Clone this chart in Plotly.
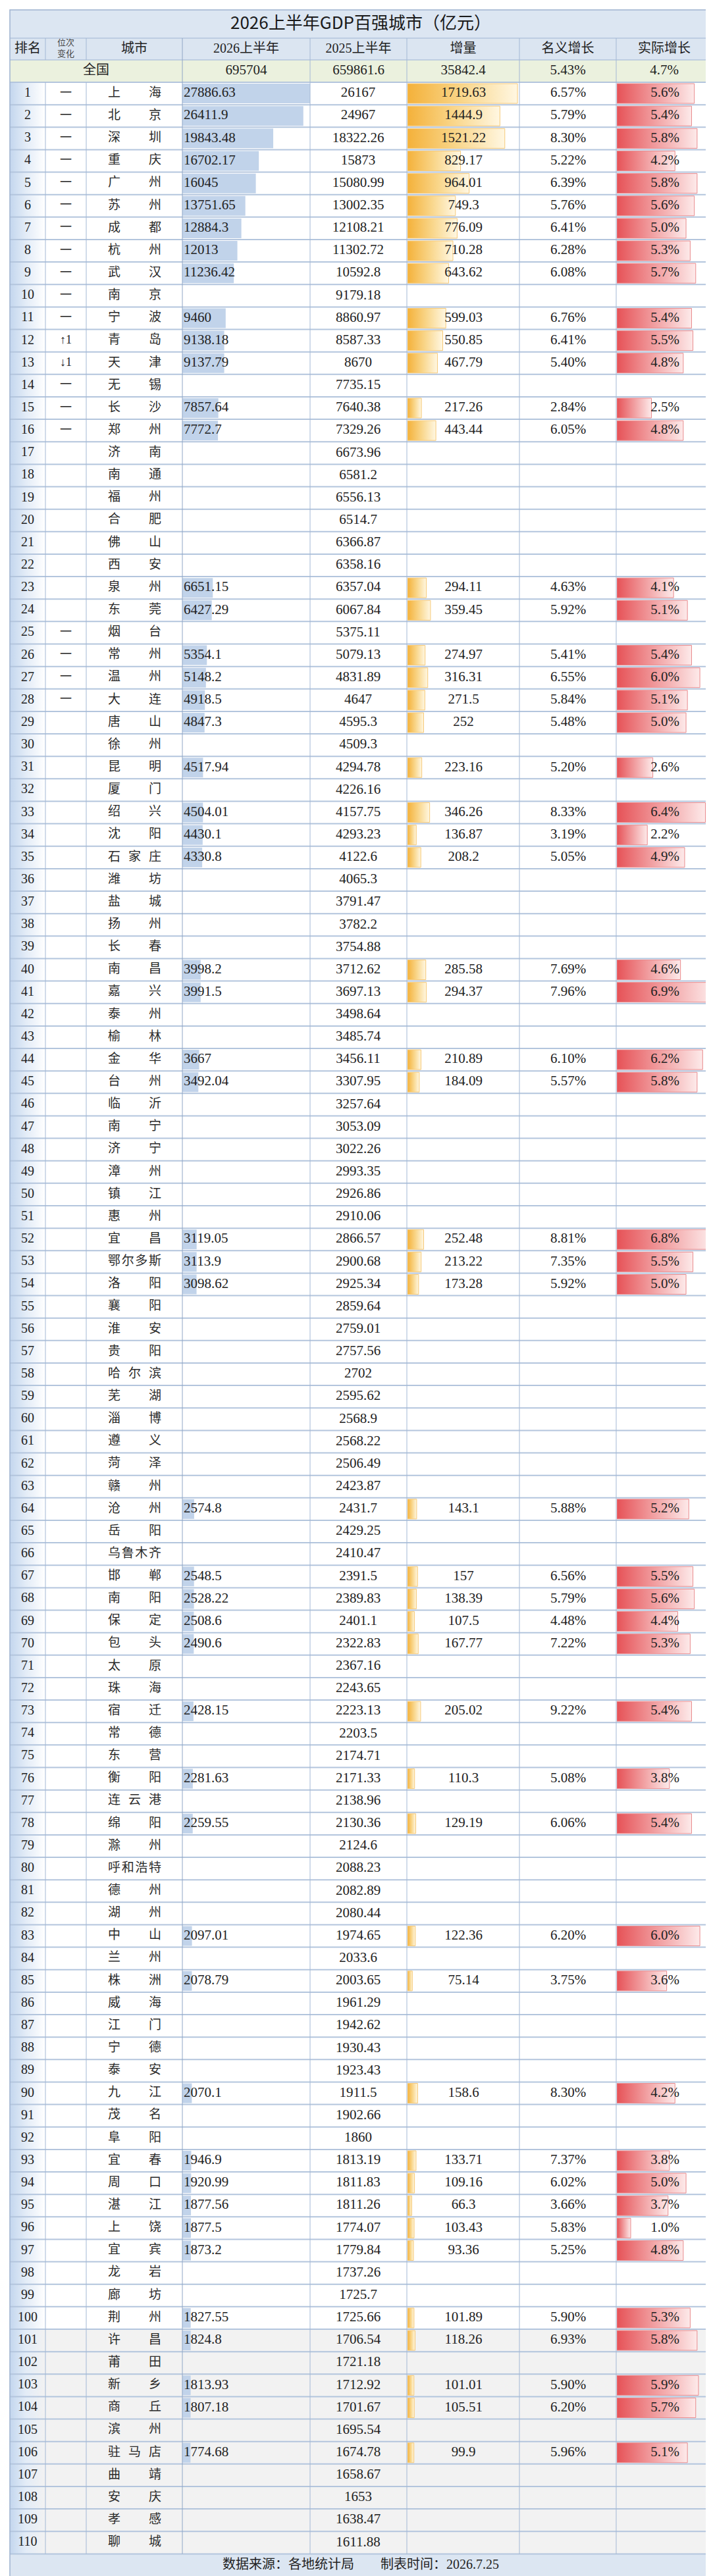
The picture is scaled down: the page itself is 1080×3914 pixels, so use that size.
import plotly.graph_objects as go

N = None
TITLE = "2026上半年GDP百强城市（亿元）"
HEADERS = ["排名", "位次<br>变化", "城市", "2026上半年", "2025上半年", "增量", "名义增长", "实际增长"]
FOOTER = "数据来源：各地统计局　　制表时间：2026.7.25"
NATIONAL_LABEL = "全国"
national_values = [695704, 659861.6, 35842.4, 5.43, 4.7]

cities = ["上海","北京","深圳","重庆","广州","苏州","成都","杭州","武汉","南京",
          "宁波","青岛","天津","无锡","长沙","郑州","济南","南通","福州","合肥",
          "佛山","西安","泉州","东莞","烟台","常州","温州","大连","唐山","徐州",
          "昆明","厦门","绍兴","沈阳","石家庄","潍坊","盐城","扬州","长春","南昌",
          "嘉兴","泰州","榆林","金华","台州","临沂","南宁","济宁","漳州","镇江",
          "惠州","宜昌","鄂尔多斯","洛阳","襄阳","淮安","贵阳","哈尔滨","芜湖","淄博",
          "遵义","菏泽","赣州","沧州","岳阳","乌鲁木齐","邯郸","南阳","保定","包头",
          "太原","珠海","宿迁","常德","东营","衡阳","连云港","绵阳","滁州","呼和浩特",
          "德州","湖州","中山","兰州","株洲","威海","江门","宁德","泰安","九江",
          "茂名","阜阳","宜春","周口","湛江","上饶","宜宾","龙岩","廊坊","荆州",
          "许昌","莆田","新乡","商丘","滨州","驻马店","曲靖","安庆","孝感","聊城"]

rank_change = ["一","一","一","一","一","一","一","一","一","一",
               "一","↑1","↓1","一","一","一","","","","",
               "","","","","一","一","一","一"] + [""] * 82

gdp_2026 = [27886.63, 26411.9, 19843.48, 16702.17, 16045, 13751.65, 12884.3, 12013, 11236.42, N,
            9460, 9138.18, 9137.79, N, 7857.64, 7772.7, N, N, N, N,
            N, N, 6651.15, 6427.29, N, 5354.1, 5148.2, 4918.5, 4847.3, N,
            4517.94, N, 4504.01, 4430.1, 4330.8, N, N, N, N, 3998.2,
            3991.5, N, N, 3667, 3492.04, N, N, N, N, N,
            N, 3119.05, 3113.9, 3098.62, N, N, N, N, N, N,
            N, N, N, 2574.8, N, N, 2548.5, 2528.22, 2508.6, 2490.6,
            N, N, 2428.15, N, N, 2281.63, N, 2259.55, N, N,
            N, N, 2097.01, N, 2078.79, N, N, N, N, 2070.1,
            N, N, 1946.9, 1920.99, 1877.56, 1877.5, 1873.2, N, N, 1827.55,
            1824.8, N, 1813.93, 1807.18, N, 1774.68, N, N, N, N]

gdp_2025 = [26167, 24967, 18322.26, 15873, 15080.99, 13002.35, 12108.21, 11302.72, 10592.8, 9179.18,
            8860.97, 8587.33, 8670, 7735.15, 7640.38, 7329.26, 6673.96, 6581.2, 6556.13, 6514.7,
            6366.87, 6358.16, 6357.04, 6067.84, 5375.11, 5079.13, 4831.89, 4647, 4595.3, 4509.3,
            4294.78, 4226.16, 4157.75, 4293.23, 4122.6, 4065.3, 3791.47, 3782.2, 3754.88, 3712.62,
            3697.13, 3498.64, 3485.74, 3456.11, 3307.95, 3257.64, 3053.09, 3022.26, 2993.35, 2926.86,
            2910.06, 2866.57, 2900.68, 2925.34, 2859.64, 2759.01, 2757.56, 2702, 2595.62, 2568.9,
            2568.22, 2506.49, 2423.87, 2431.7, 2429.25, 2410.47, 2391.5, 2389.83, 2401.1, 2322.83,
            2367.16, 2243.65, 2223.13, 2203.5, 2174.71, 2171.33, 2138.96, 2130.36, 2124.6, 2088.23,
            2082.89, 2080.44, 1974.65, 2033.6, 2003.65, 1961.29, 1942.62, 1930.43, 1923.43, 1911.5,
            1902.66, 1860, 1813.19, 1811.83, 1811.26, 1774.07, 1779.84, 1737.26, 1725.7, 1725.66,
            1706.54, 1721.18, 1712.92, 1701.67, 1695.54, 1674.78, 1658.67, 1653, 1638.47, 1611.88]

increase = [1719.63, 1444.9, 1521.22, 829.17, 964.01, 749.3, 776.09, 710.28, 643.62, N,
            599.03, 550.85, 467.79, N, 217.26, 443.44, N, N, N, N,
            N, N, 294.11, 359.45, N, 274.97, 316.31, 271.5, 252, N,
            223.16, N, 346.26, 136.87, 208.2, N, N, N, N, 285.58,
            294.37, N, N, 210.89, 184.09, N, N, N, N, N,
            N, 252.48, 213.22, 173.28, N, N, N, N, N, N,
            N, N, N, 143.1, N, N, 157, 138.39, 107.5, 167.77,
            N, N, 205.02, N, N, 110.3, N, 129.19, N, N,
            N, N, 122.36, N, 75.14, N, N, N, N, 158.6,
            N, N, 133.71, 109.16, 66.3, 103.43, 93.36, N, N, 101.89,
            118.26, N, 101.01, 105.51, N, 99.9, N, N, N, N]

nominal_growth = [6.57, 5.79, 8.30, 5.22, 6.39, 5.76, 6.41, 6.28, 6.08, N,
                  6.76, 6.41, 5.40, N, 2.84, 6.05, N, N, N, N,
                  N, N, 4.63, 5.92, N, 5.41, 6.55, 5.84, 5.48, N,
                  5.20, N, 8.33, 3.19, 5.05, N, N, N, N, 7.69,
                  7.96, N, N, 6.10, 5.57, N, N, N, N, N,
                  N, 8.81, 7.35, 5.92, N, N, N, N, N, N,
                  N, N, N, 5.88, N, N, 6.56, 5.79, 4.48, 7.22,
                  N, N, 9.22, N, N, 5.08, N, 6.06, N, N,
                  N, N, 6.20, N, 3.75, N, N, N, N, 8.30,
                  N, N, 7.37, 6.02, 3.66, 5.83, 5.25, N, N, 5.90,
                  6.93, N, 5.90, 6.20, N, 5.96, N, N, N, N]

real_growth = [5.6, 5.4, 5.8, 4.2, 5.8, 5.6, 5.0, 5.3, 5.7, N,
               5.4, 5.5, 4.8, N, 2.5, 4.8, N, N, N, N,
               N, N, 4.1, 5.1, N, 5.4, 6.0, 5.1, 5.0, N,
               2.6, N, 6.4, 2.2, 4.9, N, N, N, N, 4.6,
               6.9, N, N, 6.2, 5.8, N, N, N, N, N,
               N, 6.8, 5.5, 5.0, N, N, N, N, N, N,
               N, N, N, 5.2, N, N, 5.5, 5.6, 4.4, 5.3,
               N, N, 5.4, N, N, 3.8, N, 5.4, N, N,
               N, N, 6.0, N, 3.6, N, N, N, N, 4.2,
               N, N, 3.8, 5.0, 3.7, 1.0, 4.8, N, N, 5.3,
               5.8, N, 5.9, 5.7, N, 5.1, N, N, N, N]

# ---------------- layout geometry (pixels) ----------------
W, H = 1080, 3914
LEFT, RIGHT = 7, 1074
COLS = [7, 61, 123, 269, 463, 610, 781, 928, 1074]
TITLE_TOP, HEAD_TOP, NAT_TOP, ROWS_TOP = 7, 50, 83, 117
ROW_H = 34.14
NROWS = len(cities)
ROWS_BOTTOM = ROWS_TOP + NROWS * ROW_H
FOOT_BOTTOM = 3907
GRAY_FROM = 101
BAR_HALF = 15

NUM_FONT = "Liberation Serif, Noto Sans CJK SC, serif"
CJK_FONT = "Noto Sans CJK SC, sans-serif"
TXT = "#222222"
NUM_SIZE = 21

def fmt(v):
    return ("%.2f" % v).rstrip("0").rstrip(".")

def yc(i):
    return ROWS_TOP + (i + 0.5) * ROW_H

centers = [yc(i) for i in range(NROWS)]

fig = go.Figure()

# rank column gradient backgrounds
for y0, y1, c1 in [(ROWS_TOP, ROWS_TOP + (GRAY_FROM - 1) * ROW_H, "#ffffff"),
                   (ROWS_TOP + (GRAY_FROM - 1) * ROW_H, ROWS_BOTTOM, "#f2f2f2")]:
    fig.add_trace(go.Scatter(
        x=[COLS[0], COLS[1], COLS[1], COLS[0], COLS[0]], y=[y0, y0, y1, y1, y0],
        mode="lines", fill="toself", line=dict(width=0),
        fillgradient=dict(type="horizontal", colorscale=[[0, "#c3d6ee"], [0.45, "#e3ecf7"], [1, c1]]),
        hoverinfo="skip", xaxis="x", yaxis="y"))

# blue bars (2026)
idx26 = [i for i, v in enumerate(gdp_2026) if v is not None]
fig.add_trace(go.Bar(
    orientation="h", x=[gdp_2026[i] for i in idx26], y=[centers[i] for i in idx26],
    base=0, width=2 * BAR_HALF, marker=dict(color="#c1d3ea", line=dict(width=0)),
    hoverinfo="skip", xaxis="x2", yaxis="y"))

# gradient bars: increase (orange) and real growth (red)
def grad_bars(values, axis, cs, border):
    for i, v in enumerate(values):
        if v is None:
            continue
        c = centers[i]
        fig.add_trace(go.Scatter(
            x=[0, v, v, 0, 0], y=[c - BAR_HALF, c - BAR_HALF, c + BAR_HALF, c + BAR_HALF, c - BAR_HALF],
            mode="lines", fill="toself", line=dict(color=border, width=1),
            fillgradient=dict(type="horizontal", colorscale=cs),
            hoverinfo="skip", xaxis=axis, yaxis="y"))

grad_bars(increase, "x3", [[0, "#f4b13a"], [0.5, "#f9d68a"], [1, "#fff7e2"]], "#f6c978")
grad_bars(real_growth, "x4", [[0, "#e65257"], [0.5, "#f19ea0"], [1, "#fdeaea"]], "#e98a8d")

# ---------------- text (top subplot x5) ----------------
def text_trace(xs, ys, texts, size=NUM_SIZE, font=NUM_FONT, pos="middle center", color=TXT):
    fig.add_trace(go.Scatter(
        x=xs, y=ys, text=texts, mode="text", textposition=pos,
        textfont=dict(family=font, size=size, color=color),
        hoverinfo="skip", xaxis="x5", yaxis="y", cliponaxis=False))

# title / footer
text_trace([540], [29], [TITLE], size=26, font=CJK_FONT, color="#1a1a1a")
text_trace([540], [(ROWS_BOTTOM + FOOT_BOTTOM) / 2], [FOOTER], size=20, font=NUM_FONT)

# header
hx = [(COLS[k] + COLS[k + 1]) / 2 for k in range(8)]
hy = (HEAD_TOP + NAT_TOP) / 2
text_trace([hx[k] for k in range(8) if k != 1], [hy] * 7, [HEADERS[k] for k in range(8) if k != 1], size=20, font=NUM_FONT)
text_trace([hx[1]], [hy], [HEADERS[1]], size=13, font=CJK_FONT, color="#444444")

# national row
ny = (NAT_TOP + ROWS_TOP) / 2
text_trace([(COLS[0] + COLS[3]) / 2], [ny], [NATIONAL_LABEL], size=20, font=NUM_FONT)
text_trace([hx[3], hx[4], hx[5], hx[6], hx[7]], [ny] * 5,
           [fmt(national_values[0]), fmt(national_values[1]), fmt(national_values[2]),
            "%.2f%%" % national_values[3], "%.1f%%" % national_values[4]])

# ranks and changes
text_trace([34] * NROWS, centers, [str(i + 1) for i in range(NROWS)], size=20)
ci = [i for i in range(NROWS) if rank_change[i]]
text_trace([92] * len(ci), [centers[i] for i in ci], [rank_change[i] for i in ci], size=18)

# cities (distributed alignment)
cx, cy, ct = [], [], []
for i, name in enumerate(cities):
    n = len(name)
    for k, ch in enumerate(name):
        cx.append(165.5 + k * (62.0 / (n - 1)))
        cy.append(centers[i])
        ct.append(ch)
text_trace(cx, cy, ct, size=19, font=CJK_FONT, color="#2a2a2a")

# values
text_trace([271] * len(idx26), [centers[i] for i in idx26], [fmt(gdp_2026[i]) for i in idx26],
           pos="middle right")
text_trace([536] * NROWS, centers, [fmt(v) for v in gdp_2025])
ii = [i for i, v in enumerate(increase) if v is not None]
text_trace([696] * len(ii), [centers[i] for i in ii], [fmt(increase[i]) for i in ii])
ni = [i for i, v in enumerate(nominal_growth) if v is not None]
text_trace([855] * len(ni), [centers[i] for i in ni], ["%.2f%%" % nominal_growth[i] for i in ni])
ri = [i for i, v in enumerate(real_growth) if v is not None]
text_trace([1002] * len(ri), [centers[i] for i in ri], ["%.1f%%" % real_growth[i] for i in ri])

# ---------------- shapes ----------------
shapes = []
def rect(x0, y0, x1, y1, fill, layer="below"):
    shapes.append(dict(type="rect", xref="x", yref="y", x0=x0, y0=y0, x1=x1, y1=y1,
                       fillcolor=fill, line=dict(width=0), layer=layer))

def line(x0, y0, x1, y1, color, width):
    shapes.append(dict(type="line", xref="x", yref="y", x0=x0, y0=y0, x1=x1, y1=y1,
                       line=dict(color=color, width=width), layer="above"))

rect(LEFT, TITLE_TOP, RIGHT, HEAD_TOP, "#dce6f2")
rect(LEFT, HEAD_TOP, RIGHT, NAT_TOP, "#dbe5f1")
rect(LEFT, NAT_TOP, RIGHT, ROWS_TOP, "#ebf1de")
rect(COLS[1], ROWS_TOP + (GRAY_FROM - 1) * ROW_H, RIGHT, ROWS_BOTTOM, "#f2f2f2")
rect(LEFT, ROWS_BOTTOM, RIGHT, FOOT_BOTTOM, "#dce6f2")

HL = "#b3c5dd"
VL = "#a3b8d5"
line(LEFT, HEAD_TOP, RIGHT, HEAD_TOP, HL, 1.5)
line(LEFT, NAT_TOP, RIGHT, NAT_TOP, HL, 1.5)
for k in range(NROWS + 1):
    y = ROWS_TOP + k * ROW_H
    line(LEFT, y, RIGHT, y, HL, 2)
for k, x in enumerate(COLS[1:-1], start=1):
    if k in (1, 2):
        line(x, HEAD_TOP, x, NAT_TOP, VL, 1)
        line(x, ROWS_TOP, x, ROWS_BOTTOM, VL, 1)
    else:
        line(x, HEAD_TOP, x, ROWS_BOTTOM, "#8fa6c6" if k == 3 else VL, 1)
shapes.append(dict(type="rect", xref="x", yref="y", x0=LEFT, y0=TITLE_TOP, x1=RIGHT, y1=FOOT_BOTTOM,
                   line=dict(color="#9fb3cf", width=1.5), fillcolor="rgba(0,0,0,0)", layer="above"))

ax_hidden = dict(visible=False, fixedrange=True, showgrid=False, zeroline=False)
fig.update_layout(
    width=W, height=H, margin=dict(l=0, r=0, t=0, b=0),
    paper_bgcolor="#ffffff", plot_bgcolor="rgba(0,0,0,0)",
    showlegend=False, hovermode=False, shapes=shapes,
    xaxis=dict(domain=[0, 1], range=[0, W], **ax_hidden),
    yaxis=dict(domain=[0, 1], range=[H, 0], **ax_hidden),
    xaxis2=dict(domain=[COLS[3] / W, COLS[4] / W], range=[0, 27886.63], anchor="y", **ax_hidden),
    xaxis3=dict(domain=[(COLS[5] + 1) / W, COLS[6] / W], range=[0, 1750], anchor="y", **ax_hidden),
    xaxis4=dict(domain=[(COLS[7] + 1) / W, COLS[8] / W], range=[0, 6.9], anchor="y", **ax_hidden),
    xaxis5=dict(domain=[0, 1], range=[0, W], anchor="y", **ax_hidden),
)

fig.write_html("out.html")
